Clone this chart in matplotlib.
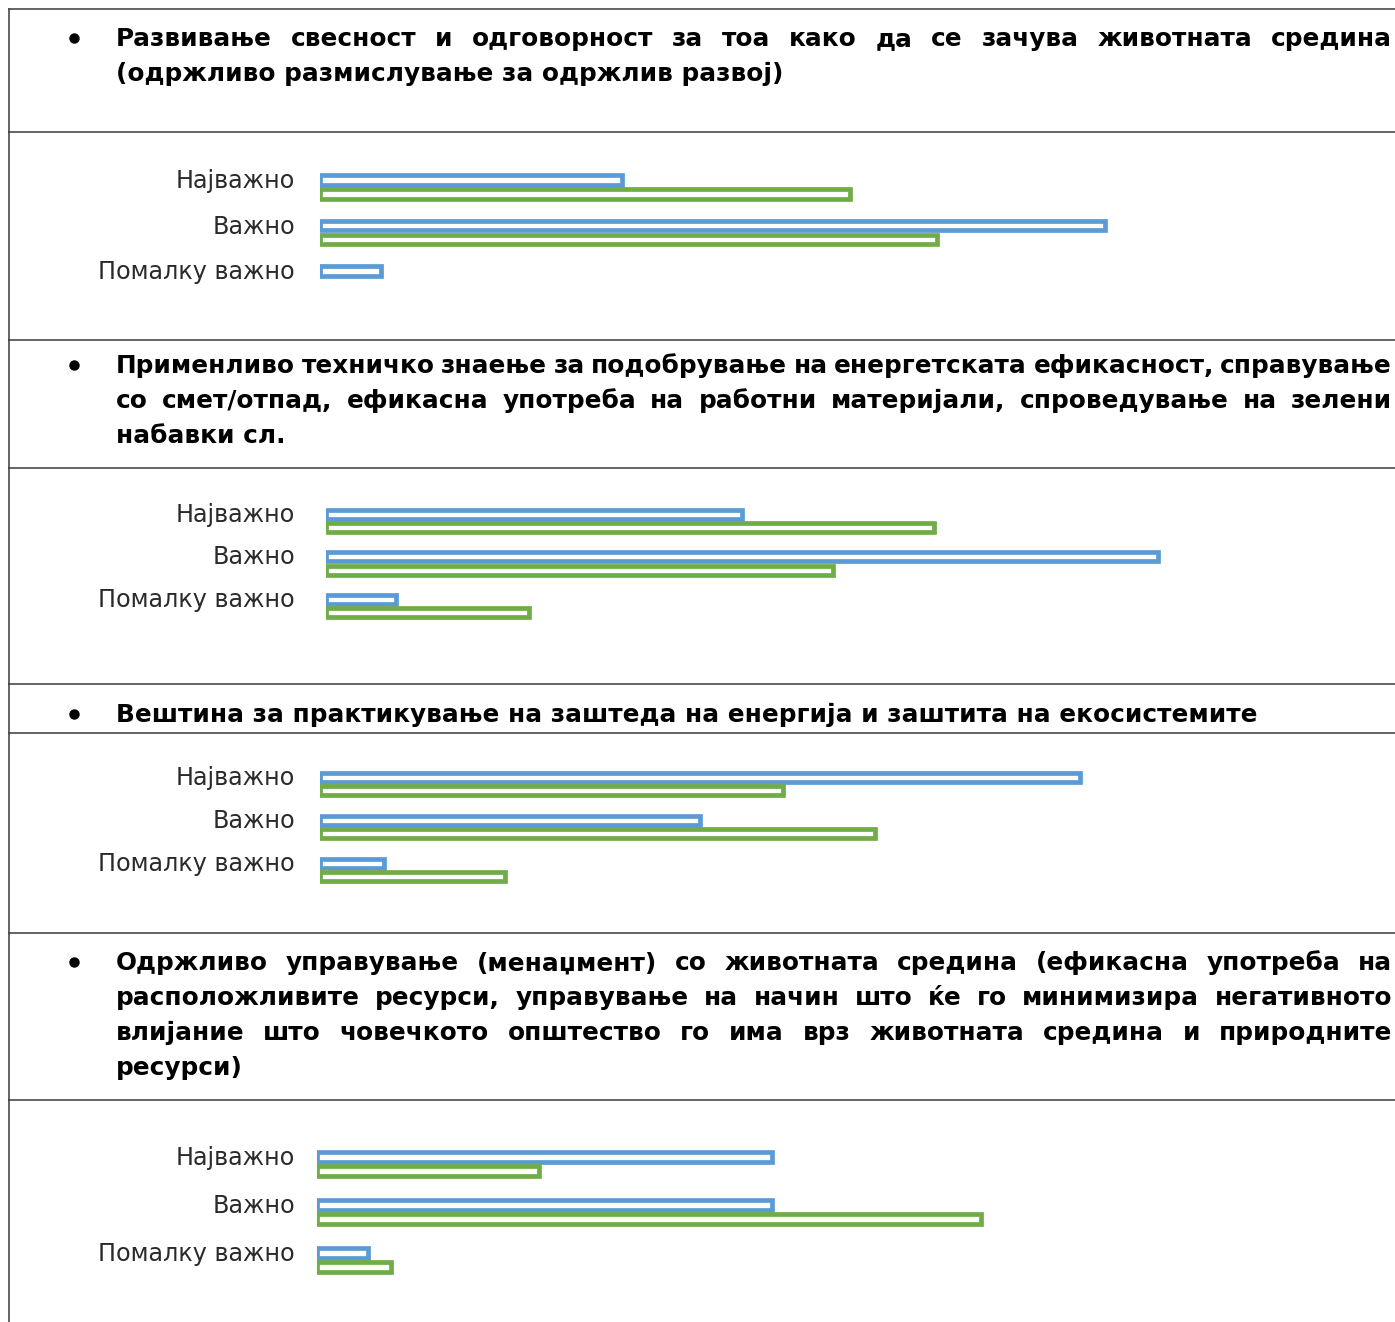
import matplotlib
matplotlib.use("Agg")
import matplotlib.pyplot as plt
from matplotlib.lines import Line2D
from matplotlib.transforms import IdentityTransform
import numpy as np

W, H = 1395, 1322

# --- data ---
categories = ["Најважно", "Важно", "Помалку важно"]

headers = [
    ["Развивање свесност и одговорност за тоа како да се зачува животната средина",
     "(одржливо размислување за одржлив развој)"],
    ["Применливо техничко знаење за подобрување на енергетската ефикасност, справување",
     "со смет/отпад, ефикасна употреба на работни материјали, спроведување на зелени",
     "набавки сл."],
    ["Вештина за практикување на заштеда на енергија и заштита на екосистемите"],
    ["Одржливо управување (менаџмент) со животната средина (ефикасна употреба на",
     "расположливите ресурси, управување на начин што ќе го минимизира негативното",
     "влијание што човечкото општество го има врз животната средина и природните",
     "ресурси)"],
]

blue_1 = [26.3, 68.4, 5.3]
green_1 = [46.2, 53.8, 0.0]
blue_2 = [31.6, 63.2, 5.3]
green_2 = [46.2, 38.5, 15.4]
blue_3 = [63.2, 31.6, 5.3]
green_3 = [38.5, 46.2, 15.4]
blue_4 = [47.4, 47.4, 5.3]
green_4 = [23.1, 69.2, 7.7]

blues = [blue_1, blue_2, blue_3, blue_4]
greens = [green_1, green_2, green_3, green_4]

# --- layout (pixels in the 1395x1322 picture) ---
BLUE = "#5B9BD5"
GREEN = "#70AD47"
LINE_C = "#3a3a3a"
HEAD_FONT = ["DejaVu Sans"]
LABEL_FONT = ["DejaVu Sans"]

head_baselines = [[46, 81], [373, 408, 443], [722], [970, 1005, 1040, 1075]]
rules = [9, 132, 340, 468, 684, 733, 933, 1100]
# first category centre, category spacing, bar start x, px per 100 %
chart_geo = [(187, 45.5, 320, 1147), (521, 42.5, 326, 1317),
             (784, 43.0, 320, 1202), (1164, 48.0, 317, 960)]

fig = plt.figure(figsize=(W / 100, H / 100), dpi=100)
fig.patch.set_facecolor("white")
ident = IdentityTransform()
renderer = fig.canvas.get_renderer()


def dy(y):
    return H - y


def fit_size(text, target_px, **kw):
    # font size that makes `text` about target_px wide
    t = fig.text(0, 0, text, fontsize=10, transform=ident, **kw)
    w = t.get_window_extent(renderer).width
    t.remove()
    return 10 * target_px / w


# table rules
for y in rules:
    fig.add_artist(Line2D([9, W], [dy(y), dy(y)], transform=ident,
                          color=LINE_C, lw=1.1))
fig.add_artist(Line2D([9, 9], [dy(9), 0], transform=ident, color=LINE_C, lw=1.1))

head_size = fit_size(headers[2][0], 1140, fontweight="bold", family=HEAD_FONT)
label_size = fit_size(categories[2], 198, fontweight="normal", family=LABEL_FONT)

head_kw = dict(fontsize=head_size, fontweight="bold", family=HEAD_FONT,
               color="black", va="baseline", ha="left", transform=ident)

X_L, X_R = 116, 1392
for lines, bases in zip(headers, head_baselines):
    # bullet
    fig.add_artist(Line2D([74], [dy(bases[0] - 8)], transform=ident, marker="o",
                          markersize=6.5, color="black", lw=0))
    for i, (line, b) in enumerate(zip(lines, bases)):
        if i == len(lines) - 1:
            fig.text(X_L, dy(b), line, **head_kw)
            continue
        # justified line
        words = line.split(" ")
        objs = [fig.text(0, dy(b), w, **head_kw) for w in words]
        widths = [o.get_window_extent(renderer).width for o in objs]
        gap = (X_R - X_L - sum(widths)) / (len(words) - 1)
        x = X_L
        for o, w in zip(objs, widths):
            o.set_x(x)
            x += w + gap

# --- bar charts ---
hh = 0.21
off = 0.155
y = np.arange(len(categories))
for (c0, s, x0, scale), bl, gr in zip(chart_geo, blues, greens):
    top = c0 - s / 2
    ax = fig.add_axes([x0 / W, dy(top + 3 * s) / H, (W - x0) / W, 3 * s / H])
    ax.set_xlim(0, (W - x0) / scale * 100)
    ax.set_ylim(2.5, -0.5)
    bl = np.array(bl)
    gr = np.array(gr)
    mb = bl > 0
    mg = gr > 0
    ax.barh(y[mb] - off, bl[mb], height=hh, color="white", edgecolor=BLUE, linewidth=3.4)
    ax.barh(y[mg] + off, gr[mg], height=hh, color="white", edgecolor=GREEN, linewidth=3.4)
    for sp in ax.spines.values():
        sp.set_visible(False)
    ax.set_xticks([])
    ax.set_yticks([])
    ax.patch.set_alpha(0)
    lx = (295 - x0) / (W - x0)
    for yi, cat in zip(y, categories):
        ax.text(lx, yi - 6 / s, cat, transform=ax.get_yaxis_transform(),
                ha="right", va="center", fontsize=label_size, fontweight="normal",
                family=LABEL_FONT, color="#2a2a2a")

fig.savefig("out.png", dpi=100, facecolor="white")
